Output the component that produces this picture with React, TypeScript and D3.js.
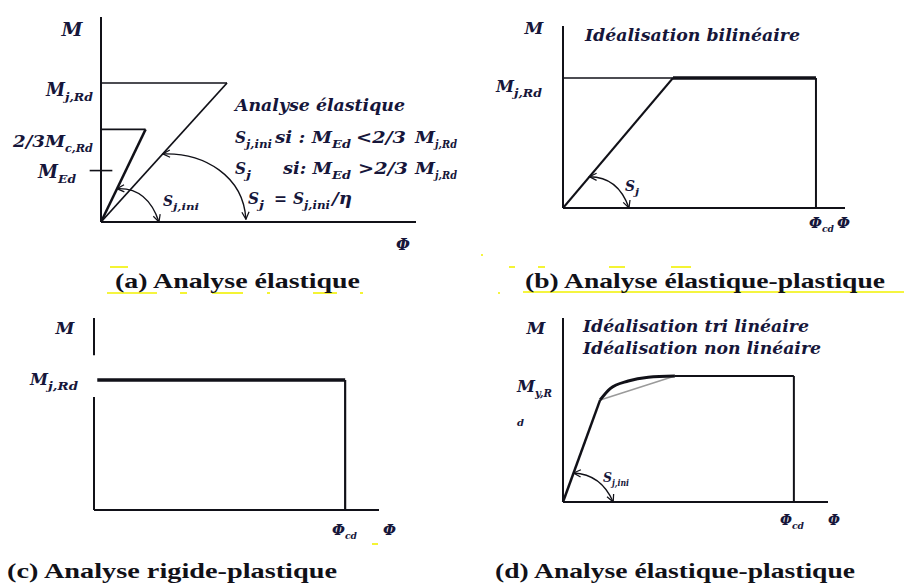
import React from "react";
import * as d3 from "d3";

const W = 904;
const H = 586;
const FONT = "'Liberation Serif', 'Times New Roman', serif";
const LFONT = "'DejaVu Serif', 'Liberation Serif', serif";
const INK = "#111118";
const LABEL = "#16163a";

// ---------- (a) elastic analysis ----------
// moments in units of M_j,Rd, rotations in units of φ reached by the secant line at M_j,Rd
const phiDomainA = [0, 2.5];
const momentDomainA = [0, 1.475];
const momentLevelsA = [1, 2 / 3, 0.37]; // M_j,Rd, 2/3 M_j,Rd, M_Ed
const initialStiffnessA = [[0, 0], [0.354, 2 / 3]];
const secantStiffnessA = [[0, 0], [1, 1]];
const arcInitialA = [[0.127, 0.24], [0.37, 0.25], [0.46, 0]];
const arcSecantA = [[0.49, 0.49], [0.82, 0.5], [1.13, 0.33], [1.15, 0.02]];

// ---------- (b) bilinear elastic-plastic ----------
const phiDomainB = [0, 2.564];
const momentDomainB = [0, 1.4];
const elasticBranchB = [[0, 0], [1, 1]];
const plateauB = [[1, 1], [2.3, 1]];
const phiCdB = 2.3;
const arcB = [[0.24, 0.24], [0.5, 0.24], [0.6, 0]];

// ---------- (c) rigid-plastic ----------
const phiDomainC = [0, 2.61];
const momentDomainC = [0, 1.477];
const plateauC = [[0.03, 1], [2.3, 1]];
const phiCdC = 2.3;
const axisGapC = [0.87, 1.19];

// ---------- (d) trilinear / non-linear ----------
const phiDomainD = [0, 2.64];
const momentDomainD = [0, 1.46];
const elasticBranchD = [[0, 0], [0.37, 0.81]];
const trilinearD = [[0.37, 0.81], [1.115, 1]];
const nonlinearD = [[0.37, 0.81], [0.47, 0.9], [0.65, 0.96], [0.85, 0.99], [1.115, 1]];
const plateauD = [[1.115, 1], [2.3, 1]];
const phiCdD = 2.3;
const arcD = [[0.105, 0.23], [0.38, 0.22], [0.5, 0]];

type Seg = { t: string; sub?: boolean; x?: number; w?: number };

function Rich({ x, y, segs, size, anchor = "start", subRatio = 0.64, fill = LABEL }: any) {
  let inSub = false;
  return (
    <text
      x={x}
      y={y}
      fontSize={size}
      textAnchor={anchor}
      fontStyle="italic"
      fontWeight="bold"
      fill={fill}
      fontFamily={LFONT}
    >
      {segs.map((s: Seg, i: number) => {
        let dy = 0;
        if (s.sub && !inSub) dy = size * 0.28;
        if (!s.sub && inSub) dy = -size * 0.28;
        inSub = !!s.sub;
        return (
          <tspan
            key={i}
            x={s.x}
            dy={dy || undefined}
            fontSize={s.sub ? size * subRatio : undefined}
            textLength={s.w}
            lengthAdjust={s.w ? "spacingAndGlyphs" : undefined}
          >
            {s.t}
          </tspan>
        );
      })}
    </text>
  );
}

function makeScales(phiDom: number[], phiRange: number[], mDom: number[], mRange: number[]) {
  const x = d3.scaleLinear().domain(phiDom).range(phiRange);
  const y = d3.scaleLinear().domain(mDom).range(mRange);
  const line = d3.line<number[]>().x((d) => x(d[0])).y((d) => y(d[1]));
  return { x, y, line };
}

function arcPath(pts: number[][], x: any, y: any) {
  const p = d3.path();
  const P = pts.map((d) => [x(d[0]), y(d[1])]);
  p.moveTo(P[0][0], P[0][1]);
  if (P.length === 3) p.quadraticCurveTo(P[1][0], P[1][1], P[2][0], P[2][1]);
  else p.bezierCurveTo(P[1][0], P[1][1], P[2][0], P[2][1], P[3][0], P[3][1]);
  return p.toString();
}

function Caption({ x, y, text, width }: any) {
  return (
    <text
      x={x}
      y={y}
      fontFamily={FONT}
      fontWeight="bold"
      fontSize={22}
      fill={INK}
      textLength={width}
      lengthAdjust="spacingAndGlyphs"
    >
      {text}
    </text>
  );
}

function Italic({ x, y, text, width, size = 16 }: any) {
  return (
    <text x={x} y={y} fontFamily={LFONT} fontStyle="italic" fontWeight="bold" fontSize={size} fill={LABEL} textLength={width} lengthAdjust="spacingAndGlyphs">
      {text}
    </text>
  );
}

function PanelA() {
  const { x, y, line } = makeScales(phiDomainA, [101, 416], momentDomainA, [222, 17]);
  const [mRd, m23, mEd] = momentLevelsA;
  return (
    <g>
      {/* axes */}
      <line x1={x(0)} x2={x(0)} y1={y(momentDomainA[1])} y2={y(0)} stroke={INK} strokeWidth={2} />
      <line x1={x(0)} x2={x(phiDomainA[1])} y1={y(0)} y2={y(0)} stroke={INK} strokeWidth={2} />
      {/* moment levels */}
      <line x1={x(0)} x2={x(secantStiffnessA[1][0])} y1={y(mRd)} y2={y(mRd)} stroke={INK} strokeWidth={1.6} />
      <line x1={x(0)} x2={x(initialStiffnessA[1][0])} y1={y(m23)} y2={y(m23)} stroke={INK} strokeWidth={1.8} />
      <line x1={x(-0.09)} x2={x(0.09)} y1={y(mEd)} y2={y(mEd)} stroke={INK} strokeWidth={1.6} />
      {/* stiffness lines */}
      <path d={line(initialStiffnessA as any) || ""} stroke={INK} strokeWidth={2.5} fill="none" />
      <path d={line(secantStiffnessA as any) || ""} stroke={INK} strokeWidth={1.8} fill="none" />
      {/* stiffness arcs */}
      <path d={arcPath(arcInitialA, x, y)} stroke={INK} strokeWidth={1.4} fill="none" markerStart="url(#arr)" markerEnd="url(#arr)" />
      <path d={arcPath(arcSecantA, x, y)} stroke={INK} strokeWidth={1.4} fill="none" markerStart="url(#arr)" markerEnd="url(#arr)" />

      <Rich x={72} y={36} size={19} anchor="middle" segs={[{ t: "M" }]} />
      <Rich x={46} y={96} size={18} segs={[{ t: "M", w: 19 }, { t: "j,Rd", sub: true, w: 28 }]} />
      <Rich x={13} y={147} size={17} segs={[{ t: "2/3M", w: 52 }, { t: "c,Rd", sub: true, w: 28 }]} />
      <Rich x={38} y={178} size={18} segs={[{ t: "M", w: 20 }, { t: "Ed", sub: true, w: 18 }]} />
      <Rich x={163} y={206} size={15} segs={[{ t: "S", w: 10 }, { t: "j,ini", sub: true, w: 26 }]} />
      <Rich x={403} y={250} size={16} anchor="middle" segs={[{ t: "Φ" }]} />

      <Italic x={235} y={111} width={170} size={17} text="Analyse élastique" />
      <Rich
        x={235}
        y={143}
        size={17}
        segs={[
          { t: "S", w: 11 },
          { t: "j,ini", sub: true, w: 26 },
          { t: "si : M", x: 275, w: 57 },
          { t: "Ed", sub: true, w: 19 },
          { t: "<2/3", x: 356, w: 50 },
          { t: "M", x: 415, w: 20 },
          { t: "j,Rd", sub: true, w: 22 },
        ]}
      />
      <Rich
        x={235}
        y={174}
        size={17}
        segs={[
          { t: "S", w: 11 },
          { t: "j", sub: true, w: 5 },
          { t: "si: M", x: 283, w: 49 },
          { t: "Ed", sub: true, w: 19 },
          { t: ">2/3", x: 358, w: 50 },
          { t: "M", x: 415, w: 20 },
          { t: "j,Rd", sub: true, w: 22 },
        ]}
      />
      <Rich
        x={248}
        y={204}
        size={17}
        segs={[
          { t: "S", w: 11 },
          { t: "j", sub: true, w: 5 },
          { t: "=", x: 274, w: 13 },
          { t: "S", x: 293, w: 11 },
          { t: "j,ini", sub: true, w: 26 },
          { t: "/η", x: 332, w: 20 },
        ]}
      />
      <Caption x={115} y={288} width={245} text="(a) Analyse élastique" />
    </g>
  );
}

function PanelB() {
  const { x, y, line } = makeScales(phiDomainB, [563, 845], momentDomainB, [208, 26]);
  return (
    <g>
      <line x1={x(0)} x2={x(0)} y1={y(momentDomainB[1])} y2={y(0)} stroke={INK} strokeWidth={2} />
      <line x1={x(0)} x2={x(phiDomainB[1])} y1={y(0)} y2={y(0)} stroke={INK} strokeWidth={2} />
      <line x1={x(0)} x2={x(1)} y1={y(1)} y2={y(1)} stroke={INK} strokeWidth={1.5} />
      <path d={line(elasticBranchB as any) || ""} stroke={INK} strokeWidth={2} fill="none" />
      <path d={line(plateauB as any) || ""} stroke={INK} strokeWidth={3.5} fill="none" />
      <line x1={x(phiCdB)} x2={x(phiCdB)} y1={y(1)} y2={y(0)} stroke={INK} strokeWidth={2} />
      <path d={arcPath(arcB, x, y)} stroke={INK} strokeWidth={1.4} fill="none" markerStart="url(#arr)" markerEnd="url(#arr)" />

      <Rich x={534} y={34} size={17} anchor="middle" segs={[{ t: "M" }]} />
      <Rich x={496} y={92} size={17} segs={[{ t: "M", w: 18 }, { t: "j,Rd", sub: true, w: 28 }]} />
      <Rich x={625} y={191} size={15} segs={[{ t: "S", w: 10 }, { t: "j", sub: true, w: 4 }]} />
      <Rich x={809} y={228} size={15} segs={[{ t: "Φ", w: 13 }, { t: "cd", sub: true, w: 12 }, { t: "Φ", x: 837, w: 13 }]} />
      <Italic x={585} y={41} width={215} size={16} text="Idéalisation bilinéaire" />
      <Caption x={525} y={288} width={360} text="(b) Analyse élastique-plastique" />
    </g>
  );
}

function PanelC() {
  const { x, y, line } = makeScales(phiDomainC, [94, 379], momentDomainC, [510, 318]);
  return (
    <g>
      <line x1={x(0)} x2={x(0)} y1={y(momentDomainC[1])} y2={y(axisGapC[1])} stroke={INK} strokeWidth={2} />
      <line x1={x(0)} x2={x(0)} y1={y(axisGapC[0])} y2={y(0)} stroke={INK} strokeWidth={2} />
      <line x1={x(0)} x2={x(phiDomainC[1])} y1={y(0)} y2={y(0)} stroke={INK} strokeWidth={2} />
      <path d={line(plateauC as any) || ""} stroke={INK} strokeWidth={3.5} fill="none" />
      <line x1={x(phiCdC)} x2={x(phiCdC)} y1={y(1)} y2={y(0)} stroke={INK} strokeWidth={2.2} />

      <Rich x={65} y={334} size={17} anchor="middle" segs={[{ t: "M" }]} />
      <Rich x={30} y={385} size={17} segs={[{ t: "M", w: 18 }, { t: "j,Rd", sub: true, w: 30 }]} />
      <Rich x={332} y={535} size={15} segs={[{ t: "Φ", w: 13 }, { t: "cd", sub: true, w: 12 }, { t: "Φ", x: 383, w: 13 }]} />
      <Caption x={7} y={578} width={330} text="(c)  Analyse rigide-plastique" />
    </g>
  );
}

function PanelD() {
  const { x, y, line } = makeScales(phiDomainD, [563, 828], momentDomainD, [502, 318]);
  const curve = d3
    .line<number[]>()
    .x((d) => x(d[0]))
    .y((d) => y(d[1]))
    .curve(d3.curveMonotoneX);
  return (
    <g>
      <line x1={x(0)} x2={x(0)} y1={y(momentDomainD[1])} y2={y(0)} stroke={INK} strokeWidth={2} />
      <line x1={x(0)} x2={x(phiDomainD[1])} y1={y(0)} y2={y(0)} stroke={INK} strokeWidth={2} />
      <path d={line(trilinearD as any) || ""} stroke="#9a9a9a" strokeWidth={1.5} fill="none" />
      <path d={line(elasticBranchD as any) || ""} stroke={INK} strokeWidth={2.5} fill="none" />
      <path d={curve(nonlinearD as any) || ""} stroke={INK} strokeWidth={3} fill="none" />
      <path d={line(plateauD as any) || ""} stroke={INK} strokeWidth={2} fill="none" />
      <line x1={x(phiCdD)} x2={x(phiCdD)} y1={y(1)} y2={y(0)} stroke={INK} strokeWidth={2} />
      <path d={arcPath(arcD, x, y)} stroke={INK} strokeWidth={1.3} fill="none" markerStart="url(#arr)" markerEnd="url(#arr)" />

      <Rich x={536} y={334} size={17} anchor="middle" segs={[{ t: "M" }]} />
      <Rich x={517} y={392} size={17} segs={[{ t: "M", w: 18 }, { t: "y,R", sub: true, w: 17 }]} />
      <Rich x={517} y={426} size={10} segs={[{ t: "d" }]} />
      <Rich x={603} y={482} size={13} segs={[{ t: "S", w: 9 }, { t: "j,ini", sub: true, w: 17 }]} />
      <Rich x={780} y={525} size={14} segs={[{ t: "Φ", w: 12 }, { t: "cd", sub: true, w: 12 }, { t: "Φ", x: 828, w: 12 }]} />
      <Italic x={583} y={332} width={226} size={16} text="Idéalisation tri linéaire" />
      <Italic x={583} y={354} width={238} size={16} text="Idéalisation non linéaire" />
      <Caption x={495} y={578} width={360} text="(d) Analyse élastique-plastique" />
    </g>
  );
}

// editor highlight marks left under the captions
const highlightMarks = [
  [107, 157, 293], [180, 187, 293], [212, 243, 293], [267, 270, 293], [313, 337, 293], [360, 363, 293],
  [110, 128, 267], [509, 515, 267], [538, 545, 267], [609, 625, 267], [671, 691, 267],
  [523, 904, 292], [372, 378, 544], [498, 500, 293], [481, 483, 255],
];

export default function App() {
  return (
    <svg width={W} height={H} style={{ position: "absolute", left: 0, top: 0, background: "#fff" }}>
      <defs>
        <marker id="arr" viewBox="0 0 10 10" refX={9} refY={5} markerWidth={9} markerHeight={9} markerUnits="userSpaceOnUse" orient="auto-start-reverse">
          <path d="M1,1 L9,5 L1,9" fill="none" stroke={INK} strokeWidth={1.4} />
        </marker>
      </defs>
      <rect width={W} height={H} fill="#fff" />
      {highlightMarks.map((m, i) => (
        <line key={i} x1={m[0]} x2={m[1]} y1={m[2]} y2={m[2]} stroke="#f2f200" strokeWidth={1.6} />
      ))}
      <PanelA />
      <PanelB />
      <PanelC />
      <PanelD />
    </svg>
  );
}
